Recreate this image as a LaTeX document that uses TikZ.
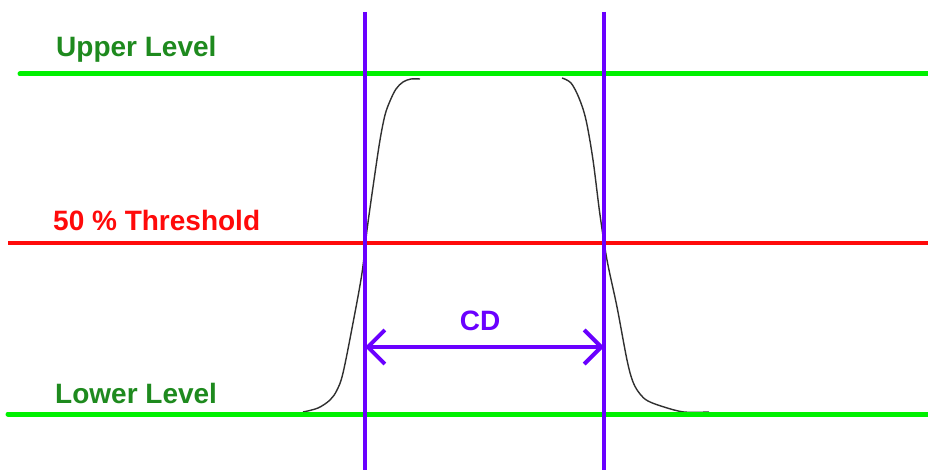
\documentclass[tikz,border=0pt]{standalone}
\usepackage{fontspec}
\setmainfont{Liberation Sans}
\usetikzlibrary{arrows.meta}
\definecolor{lvlgreen}{HTML}{00F000}
\definecolor{txtgreen}{HTML}{1E8A1E}
\definecolor{thrred}{HTML}{FF0A0A}
\definecolor{cdpurple}{HTML}{6A00FF}
\definecolor{curvegray}{HTML}{303030}
\tikzset{
  level/.style={draw=lvlgreen, line width=5pt, line cap=round},
  thresh/.style={draw=thrred, line width=4pt},
  marker/.style={draw=cdpurple, line width=4pt},
  lbl/.style={font=\fontsize{28}{30}\selectfont\bfseries, inner sep=0pt, anchor=base west},
  profile/.style={draw=curvegray, line width=1.4pt},
  cdarrow/.style={draw=cdpurple, line width=4pt, {Straight Barb[length=17pt,width=34pt,line width=4pt]}-{Straight Barb[length=17pt,width=34pt,line width=4pt]}}
}
\begin{document}
\begin{tikzpicture}[x=1pt,y=-1pt]
\useasboundingbox[fill=white] (0,0) rectangle (928,473);
% coordinates
\coordinate (ul) at (20,74);  \coordinate (ur) at (928,74);
\coordinate (tl) at (8,243);  \coordinate (tr) at (928,243);
\coordinate (ll) at (8,414);  \coordinate (lr) at (928,414);
\coordinate (v1t) at (365,12); \coordinate (v1b) at (365,470);
\coordinate (v2t) at (604,12); \coordinate (v2b) at (604,470);
\coordinate (a1) at (365,347); \coordinate (a2) at (604,347);
% profile
\draw[profile] plot[smooth, tension=0.55] coordinates {(303,412) (318,408) (330,400) (337,390) (343,373) (353,323) (362,273) (367,230) (374,180) (380,140) (385,115) (390,101) (396,89) (403,82) (411,79) (420,79)};
\draw[profile] plot[smooth, tension=0.55] coordinates {(562,78) (571,83) (579,98) (586,120) (593,160) (600,215) (607,260) (617,307) (627,360) (633,382) (640,394) (648,401) (664,407) (684,412) (709,412)};
% levels
\draw[level] (ul) -- (ur);
\draw[thresh] (tl) -- (tr);
\draw[level] (ll) -- (lr);
% markers
\draw[marker] (v1t) -- (v1b);
\draw[marker] (v2t) -- (v2b);
\draw[cdarrow] (a1) -- (a2);
% labels
\node[lbl, text=txtgreen] (upper) at (56,57) {Upper Level};
\node[lbl, text=thrred] (thr) at (53,230) {50 \% Threshold};
\node[lbl, text=txtgreen] (lower) at (55,403) {Lower Level};
\node[lbl, text=cdpurple, anchor=base] (cd) at (480,330) {CD};
\end{tikzpicture}
\end{document}
